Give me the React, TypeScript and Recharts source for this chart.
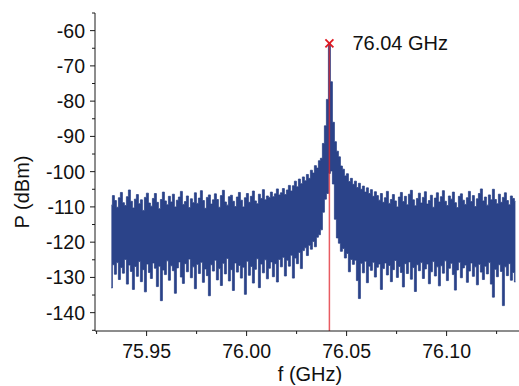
import React from 'react';
import { ComposedChart, Area, XAxis, YAxis, ReferenceLine, ReferenceDot } from 'recharts';

if (typeof document !== 'undefined') {
  document.body.style.margin = '0';
  document.body.style.overflow = 'hidden';
}

// Sweep grid (GHz)
const FREQ_START = 75.9324;
const FREQ_STEP = 0.001;

// Power readings (dBm): upper/lower excursion per sweep bin
const upperLeft = [
  -109.5, -106.8, -108.2, -110.1, -107.4, -105.9, -108.8, -109.6, -107.1, -105.2,
  -108.4, -110.3, -107.8, -106.5, -109.1, -108.0, -111.0, -107.3, -106.1, -108.9,
  -109.8, -107.6, -106.2, -108.7, -110.5, -107.9, -105.8, -108.3, -109.4, -107.0,
  -108.6, -106.4, -110.0, -108.1, -107.2, -105.6, -109.3, -108.5, -106.9, -110.2,
  -107.7, -108.8, -106.0, -109.0, -107.5, -105.4, -108.2, -110.4, -107.3, -106.6,
  -109.2, -108.0, -106.3, -107.9, -110.1, -106.8, -105.3, -108.6, -109.5, -107.1,
  -106.7, -108.4, -109.9, -107.2, -105.9, -108.1, -110.0, -107.4, -106.2, -108.7,
  -107.0, -105.5, -108.3, -109.1, -106.4, -107.6, -105.1, -108.0, -106.9, -107.3,
  -105.8, -107.1, -106.3, -104.9, -106.6,
];
const lowerLeft = [
  -133.0, -126.4, -129.1, -125.8, -130.6, -127.2, -128.8, -124.9, -131.9, -126.5,
  -128.3, -133.4, -126.9, -129.7, -125.5, -131.2, -127.8, -134.1, -126.2, -128.6,
  -130.3, -125.9, -127.4, -132.6, -126.8, -136.6, -127.9, -129.2, -125.3, -130.8,
  -126.7, -128.1, -134.5, -127.3, -125.6, -129.9, -131.7, -126.1, -128.4, -124.8,
  -130.1, -127.0, -133.2, -126.3, -128.9, -125.7, -131.4, -127.6, -129.5, -135.2,
  -126.4, -128.2, -125.1, -130.7, -127.5, -132.3, -126.0, -129.0, -124.6, -131.0,
  -127.8, -133.7, -125.9, -128.5, -126.6, -130.2, -127.1, -134.8, -125.4, -129.4,
  -126.9, -131.6, -127.7, -124.7, -132.9, -126.2, -128.7, -125.0, -130.4, -127.4,
  -125.6, -129.8, -126.1, -131.3, -124.9,
];
const upperPeak = [
  -106.0, -104.8, -106.5, -105.2, -103.9, -105.5, -104.0, -102.7, -104.3, -102.1,
  -103.4, -101.5, -102.6, -100.8, -101.9, -99.6, -100.4, -98.3, -99.0, -96.9,
  -96.2, -92.0, -87.0, -79.5, -63.6,
];
const lowerPeak = [
  -127.0, -124.3, -129.6, -125.1, -126.8, -123.7, -130.2, -124.5, -126.1, -122.9,
  -127.5, -122.4, -121.6, -123.8, -120.9, -122.0, -119.8, -121.3, -118.6, -117.9,
  -116.5, -111.5, -107.8, -106.2, -100.5,
];
const upperRight = [
  -74.5, -86.0, -91.5, -94.2, -95.8, -98.4, -99.3, -101.2, -100.6, -102.8,
  -101.9, -103.6, -102.7, -104.5, -103.3, -105.0, -104.1, -105.8, -104.6, -106.2,
  -105.1, -107.0, -105.7, -106.8, -108.1,
  -106.2, -108.7, -107.4, -105.6, -109.0, -107.9, -106.5, -108.3, -110.0, -107.2,
  -105.9, -108.5, -107.0, -109.4, -106.4, -105.3, -108.0, -109.7, -107.6, -106.1,
  -108.9, -107.3, -105.7, -109.2, -108.2, -106.7, -110.1, -107.5, -106.0, -108.6,
  -107.1, -105.4, -108.4, -109.6, -106.9, -107.8, -105.8, -108.8, -110.2, -107.0,
  -106.3, -108.1, -109.3, -107.4, -105.6, -108.5, -106.8, -109.9, -107.7, -106.2,
  -104.9, -108.3, -107.2, -109.5, -106.6, -108.0, -105.0, -107.9, -109.1, -106.4,
  -108.7, -107.3, -106.0, -108.2, -109.4, -106.9, -107.6, -108.4,
];
const lowerRight = [
  -99.8, -103.5, -113.5, -118.8, -120.3, -122.6, -121.8, -124.5, -123.2, -128.4,
  -124.9, -126.3, -125.1, -130.9, -136.0, -126.0, -128.7, -125.4, -131.5, -126.8,
  -128.0, -125.7, -129.9, -127.1, -126.2,
  -133.4, -127.5, -125.9, -129.3, -126.6, -131.2, -127.8, -125.2, -130.0, -126.9,
  -128.6, -132.7, -126.1, -128.9, -125.6, -130.5, -127.2, -134.0, -126.4, -128.1,
  -125.8, -130.3, -127.6, -126.2, -131.8, -128.4, -125.5, -129.6, -127.0, -132.4,
  -126.7, -128.8, -125.3, -130.9, -127.4, -126.0, -129.2, -133.6, -127.9, -125.7,
  -130.1, -127.3, -126.5, -131.4, -128.2, -125.9, -129.7, -127.0, -132.1, -126.3,
  -128.5, -130.6, -126.8, -129.0, -125.8, -131.9, -135.6, -127.7, -129.8, -126.4,
  -128.3, -138.0, -127.0, -129.5, -126.1, -130.8, -128.6, -131.3,
];

const xMajorTicks = [75.95, 76.0, 76.05, 76.1];
const xMinorTicks = [75.925, 75.975, 76.025, 76.075, 76.125];
const yMajorTicks = [-60, -70, -80, -90, -100, -110, -120, -130, -140];
const yMinorTicks = [-55, -65, -75, -85, -95, -105, -115, -125, -135, -145];

const peakFreq = 76.0414;
const peakPower = -63.6;
const peakLabel = '76.04 GHz';
const xLabel = 'f (GHz)';
const yLabel = 'P (dBm)';

const upper = [...upperLeft, ...upperPeak, ...upperRight];
const lower = [...lowerLeft, ...lowerPeak, ...lowerRight];
const data = upper.map((hi, i) => ({
  f: FREQ_START + i * FREQ_STEP,
  band: [lower[i], hi],
}));

const FONT = '"Liberation Sans", Arial, sans-serif';
const AX = '#1a1a1a';
const BLUE = '#2b4389';
const isIn = (arr: number[], v: number) => arr.some((a) => Math.abs(a - v) < 1e-6);

const XTick = (props: any) => {
  const { x, y, payload } = props;
  const major = isIn(xMajorTicks, payload.value);
  return (
    <g>
      <line x1={x} x2={x} y1={y} y2={y + (major ? 5 : 3)} stroke={AX} strokeWidth={1} />
      {major && (
        <text x={x} y={y + 26.5} textAnchor="middle" fontSize={19.5} fontFamily={FONT} fill="#111">
          {payload.value.toFixed(2)}
        </text>
      )}
    </g>
  );
};

const YTick = (props: any) => {
  const { x, y, payload } = props;
  const major = isIn(yMajorTicks, payload.value);
  return (
    <g>
      <line x1={x} x2={x - (major ? 5 : 3)} y1={y} y2={y} stroke={AX} strokeWidth={1} />
      {major && (
        <text x={x - 10} y={y + 6.9} textAnchor="end" fontSize={19.5} fontFamily={FONT} fill="#111">
          {payload.value}
        </text>
      )}
    </g>
  );
};

const PeakMarker = (props: any) => {
  const { cx, cy } = props;
  const s = 4;
  return (
    <g>
      <path
        d={`M${cx - s},${cy - s}L${cx + s},${cy + s}M${cx - s},${cy + s}L${cx + s},${cy - s}`}
        stroke="#e01a22"
        strokeWidth={1.8}
        fill="none"
      />
      <text x={cx + 23} y={cy + 6.3} fontSize={20} fontFamily={FONT} fill="#111">
        {peakLabel}
      </text>
    </g>
  );
};

export default function App() {
  return (
    <div style={{ width: 519, height: 386, position: 'relative', background: '#fff' }}>
      <ComposedChart width={519} height={386} data={data} margin={{ top: 13, right: 0, bottom: 0, left: 0 }}>
        <XAxis
          dataKey="f"
          type="number"
          domain={[75.9242, 76.1362]}
          allowDataOverflow
          ticks={[...xMinorTicks, ...xMajorTicks].sort((a, b) => a - b)}
          interval={0}
          tickSize={0}
          tickMargin={0}
          tickLine={false}
          tick={<XTick />}
          axisLine={{ stroke: AX, strokeWidth: 1 }}
          height={55}
        />
        <YAxis
          type="number"
          domain={[-145.2, -55]}
          allowDataOverflow
          ticks={[...yMinorTicks, ...yMajorTicks].sort((a, b) => a - b)}
          interval={0}
          tickSize={0}
          tickMargin={0}
          tickLine={false}
          tick={<YTick />}
          axisLine={{ stroke: AX, strokeWidth: 1 }}
          width={95}
        />
        <Area
          dataKey="band"
          type="step"
          stroke={BLUE}
          strokeWidth={0.8}
          fill={BLUE}
          fillOpacity={1}
          dot={false}
          activeDot={false}
          isAnimationActive={false}
        />
        <ReferenceLine
          segment={[
            { x: peakFreq, y: peakPower },
            { x: peakFreq, y: -145.2 },
          ]}
          stroke="#e0262e"
          strokeOpacity={0.75}
          strokeWidth={1.5}
        />
        <ReferenceDot x={peakFreq} y={peakPower} r={4} shape={<PeakMarker />} />
      </ComposedChart>
      <svg width={519} height={386} style={{ position: 'absolute', left: 0, top: 0, pointerEvents: 'none' }}>
        <text
          x={29}
          y={192}
          transform="rotate(-90 29 192)"
          textAnchor="middle"
          fontSize={20}
          fontFamily={FONT}
          fill="#111"
        >
          {yLabel}
        </text>
        <text x={310} y={381} textAnchor="middle" fontSize={20} fontFamily={FONT} fill="#111">
          {xLabel}
        </text>
      </svg>
    </div>
  );
}
